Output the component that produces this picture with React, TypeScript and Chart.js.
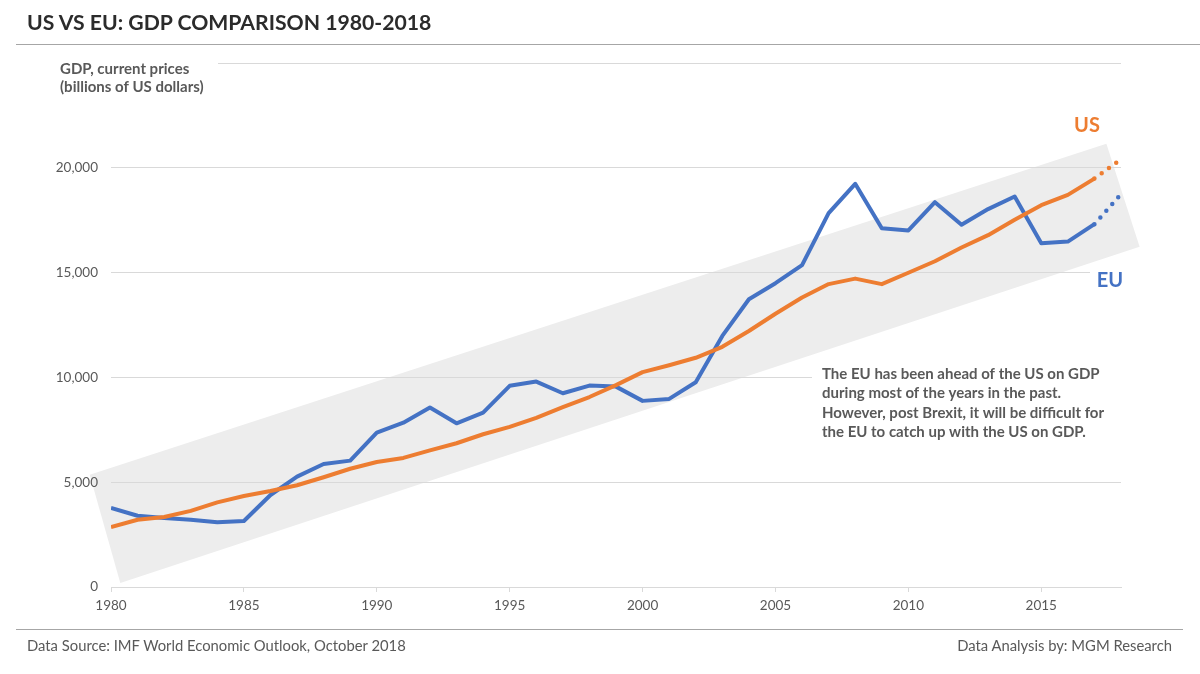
import React, { useEffect, useRef } from "react";
import { Chart, registerables } from "chart.js";

Chart.register(...registerables);

// ---- data ----
const years = [
  1980, 1981, 1982, 1983, 1984, 1985, 1986, 1987, 1988, 1989,
  1990, 1991, 1992, 1993, 1994, 1995, 1996, 1997, 1998, 1999,
  2000, 2001, 2002, 2003, 2004, 2005, 2006, 2007, 2008, 2009,
  2010, 2011, 2012, 2013, 2014, 2015, 2016, 2017,
];
const usGDP = [
  2857, 3207, 3343, 3634, 4037, 4339, 4580, 4855, 5236, 5642,
  5963, 6158, 6520, 6859, 7287, 7640, 8073, 8578, 9063, 9631,
  10252, 10582, 10936, 11458, 12214, 13037, 13815, 14452, 14713, 14449,
  14992, 15543, 16197, 16785, 17522, 18219, 18707, 19485,
];
const euGDP = [
  3770, 3400, 3290, 3210, 3090, 3150, 4390, 5265, 5870, 6030,
  7365, 7840, 8560, 7810, 8320, 9600, 9800, 9245, 9610, 9560,
  8880, 8975, 9770, 11980, 13730, 14495, 15355, 17835, 19235, 17120,
  17010, 18360, 17280, 18030, 18630, 16405, 16480, 17310,
];
const projectionYear = 2018;
const usProjection = 20413;
const euProjection = 18750;
const xTickValues = [1980, 1985, 1990, 1995, 2000, 2005, 2010, 2015];
const yTickValues = [0, 5000, 10000, 15000, 20000, 25000];
// trend band corners in data units (year, GDP)
const bandCorners: [number, number][] = [
  [1979.2, 5350],
  [2017.45, 21150],
  [2018.7, 16230],
  [1980.35, 190],
];
const axisTitleLines = ["GDP, current prices", "(billions of US dollars)"];
const noteLines = [
  "The EU has been ahead of the US on GDP",
  "during most of the years in the past.",
  "However, post Brexit, it will be difficult for",
  "the EU to catch up with the US on GDP.",
];

const BLUE = "#4472C4";
const ORANGE = "#ED7D31";
const GRAY_TEXT = "#595959";
const GRID = "#d9d9d9";
const FONT = "Lato, 'Open Sans', sans-serif";

const decorPlugin = {
  id: "decor",
  beforeDraw(chart: any) {
    const { ctx, scales } = chart;
    const xs = scales.x, ys = scales.y;
    ctx.save();
    ctx.beginPath();
    bandCorners.forEach(([yr, v], i) => {
      const px = xs.getPixelForValue(yr);
      const py = ys.getPixelForValue(v);
      if (i === 0) ctx.moveTo(px, py);
      else ctx.lineTo(px, py);
    });
    ctx.closePath();
    ctx.fillStyle = "#ededed";
    ctx.fill();
    ctx.restore();
  },
  afterDraw(chart: any) {
    const { ctx, scales, chartArea } = chart;
    const xs = scales.x, ys = scales.y;
    ctx.save();
    // axis title with white backing
    ctx.fillStyle = "#ffffff";
    ctx.fillRect(52, chartArea.top - 14, 166, 40);
    ctx.fillStyle = GRAY_TEXT;
    ctx.font = `bold 15px ${FONT}`;
    ctx.textBaseline = "middle";
    ctx.textAlign = "left";
    ctx.fillText(axisTitleLines[0], 60, chartArea.top + 6);
    ctx.fillText(axisTitleLines[1], 60, chartArea.top + 24);

    // series labels
    const usX = xs.getPixelForValue(projectionYear);
    const usY = ys.getPixelForValue(usProjection);
    const euY = ys.getPixelForValue(euProjection);
    ctx.font = `bold 20px ${FONT}`;
    ctx.textAlign = "center";
    ctx.fillStyle = ORANGE;
    ctx.fillText("US", usX - 34, usY - 34);
    ctx.fillStyle = "#ffffff";
    ctx.fillRect(usX - 31, euY + 72, 50, 30);
    ctx.fillStyle = BLUE;
    ctx.fillText("EU", usX - 11, euY + 87);

    // note
    ctx.fillStyle = "#ffffff";
    ctx.fillRect(812, 362, 310, 84);
    ctx.fillStyle = GRAY_TEXT;
    ctx.font = `bold 15px ${FONT}`;
    ctx.textAlign = "left";
    noteLines.forEach((t, i) => ctx.fillText(t, 822, 374 + i * 19.5));
    ctx.restore();
  },
};

export default function App() {
  const ref = useRef<HTMLCanvasElement | null>(null);

  useEffect(() => {
    if (!ref.current) return;
    const last = years.length - 1;
    const chart = new Chart(ref.current, {
      type: "line",
      data: {
        datasets: [
          {
            label: "US",
            data: years.map((y, i) => ({ x: y, y: usGDP[i] })),
            borderColor: ORANGE,
            borderWidth: 4,
            pointRadius: 0,
            tension: 0,
            borderJoinStyle: "round",
          },
          {
            label: "US projection",
            data: [
              { x: years[last], y: usGDP[last] },
              { x: projectionYear, y: usProjection },
            ],
            borderColor: ORANGE,
            borderWidth: 4.5,
            borderDash: [0, 9],
            borderCapStyle: "round",
            pointRadius: 0,
          },
          {
            label: "EU",
            data: years.map((y, i) => ({ x: y, y: euGDP[i] })),
            borderColor: BLUE,
            borderWidth: 4,
            pointRadius: 0,
            tension: 0,
            borderJoinStyle: "round",
          },
          {
            label: "EU projection",
            data: [
              { x: years[last], y: euGDP[last] },
              { x: projectionYear, y: euProjection },
            ],
            borderColor: BLUE,
            borderWidth: 4.5,
            borderDash: [0, 9],
            borderCapStyle: "round",
            pointRadius: 0,
          },
        ],
      } as any,
      options: {
        animation: false,
        responsive: false,
        devicePixelRatio: 1,
        layout: { padding: { top: 63, right: 79, left: 0, bottom: 0 } },
        plugins: { legend: { display: false }, tooltip: { enabled: false } },
        scales: {
          x: {
            type: "linear",
            min: 1980,
            max: 2018,
            afterBuildTicks: (s: any) => {
              s.ticks = xTickValues.map((v) => ({ value: v }));
            },
            afterFit: (s: any) => {
              s.height = 87;
            },
            ticks: {
              callback: (v: any) => String(v),
              color: GRAY_TEXT,
              font: { family: FONT, size: 13.5 },
              padding: 6,
              maxRotation: 0,
            },
            grid: {
              drawOnChartArea: false,
              drawTicks: true,
              tickLength: 5,
              color: GRID,
            },
            border: { color: GRID, width: 1 },
          },
          y: {
            min: 0,
            max: 25000,
            afterBuildTicks: (s: any) => {
              s.ticks = yTickValues.map((v) => ({ value: v }));
            },
            afterFit: (s: any) => {
              s.width = 111;
            },
            ticks: {
              callback: (v: any) => (v === 25000 ? "" : Number(v).toLocaleString("en-US")),
              color: GRAY_TEXT,
              font: { family: FONT, size: 13.5 },
              padding: 13,
            },
            grid: { color: GRID, drawTicks: false, lineWidth: 1 },
            border: { display: false },
          },
        },
      } as any,
      plugins: [decorPlugin],
    });
    return () => chart.destroy();
  }, []);

  return (
    <div
      style={{
        position: "fixed",
        left: 0,
        top: 0,
        width: 1200,
        height: 674,
        background: "#ffffff",
        overflow: "hidden",
        fontFamily: FONT,
      }}
    >
      <canvas
        ref={ref}
        width={1200}
        height={674}
        style={{ position: "absolute", left: 0, top: 0, width: 1200, height: 674 }}
      />
      <div
        style={{
          position: "absolute",
          left: 27,
          top: 10,
          lineHeight: "24px",
          fontSize: 21.2,
          fontWeight: 700,
          color: "#2b2b2b",
          whiteSpace: "nowrap",
        }}
      >
        US VS EU: GDP COMPARISON 1980-2018
      </div>
      <div style={{ position: "absolute", left: 16, top: 44, width: 1184, height: 1, background: "#a6a6a6" }} />
      <div style={{ position: "absolute", left: 16, top: 629, width: 1167, height: 1, background: "#a6a6a6" }} />
      <div
        style={{
          position: "absolute",
          left: 27,
          top: 637,
          lineHeight: "16px",
          fontSize: 14.8,
          color: GRAY_TEXT,
          whiteSpace: "nowrap",
        }}
      >
        Data Source: IMF World Economic Outlook, October 2018
      </div>
      <div
        style={{
          position: "absolute",
          right: 28,
          top: 637,
          lineHeight: "16px",
          fontSize: 14.8,
          color: GRAY_TEXT,
          whiteSpace: "nowrap",
        }}
      >
        Data Analysis by: MGM Research
      </div>
    </div>
  );
}
